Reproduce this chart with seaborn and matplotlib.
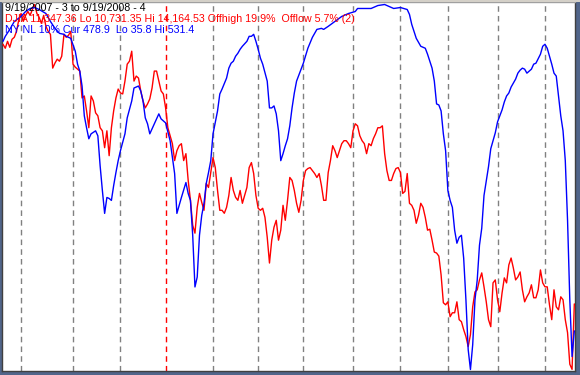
import numpy as np
import pandas as pd
import matplotlib
matplotlib.use("Agg")
import matplotlib.pyplot as plt
from matplotlib.patches import Rectangle
import seaborn as sns

# trading calendar 9/19/2007 .. 9/19/2008
holidays = ["2007-11-22", "2007-12-25", "2008-01-01", "2008-01-21", "2008-02-18",
            "2008-03-21", "2008-05-26", "2008-07-04", "2008-09-01"]
days = pd.bdate_range("2007-09-19", "2008-09-19", freq="C", holidays=holidays)

# DJIA close, one value per trading day
djia = [13790, 13753, 13818, 13762, 13837, 13856, 13912, 14024, 14080, 14006,
        14062, 14099, 14062, 14118, 14164.53, 14080, 14043, 13987, 14062, 13959,
        13912, 13884, 13566, 13613, 13650, 13631, 13678, 13884, 13856, 13875,
        13912, 13603, 13575, 13556, 13538, 13285, 13304, 13164, 13005, 13304,
        13257, 13145, 13117, 13005, 12976, 12817, 12976, 12742, 13005, 13164,
        13285, 13369, 13332, 13323, 13444, 13603, 13631, 13725, 13444, 13491,
        13472, 13351, 13257, 13192, 13229, 13276, 13379, 13538, 13538, 13444,
        13351, 13323, 13192, 13005, 12930, 12855, 12696, 12789, 12836, 12855,
        12696, 12761, 12509, 12322, 12088, 12013, 12256, 12387, 12303, 12228,
        12481, 12443, 12583, 12724, 12630, 12415, 12228, 12228, 12200, 12256,
        12368, 12537, 12415, 12350, 12322, 12415, 12294, 12368, 12443, 12630,
        12677, 12574, 12368, 12247, 12228, 12247, 12162, 11975, 11732, 11947,
        12069, 12134, 11947, 12041, 12275, 12134, 12322, 12537, 12509, 12415,
        12294, 12209, 12322, 12509, 12602, 12621, 12630, 12602, 12574, 12537,
        12574, 12462, 12322, 12322, 12583, 12696, 12836, 12789, 12724, 12789,
        12855, 12883, 12883, 12855, 12817, 12976, 13042, 13023, 12930, 12883,
        12855, 12761, 12855, 12836, 12902, 12948, 13005, 13005, 13023, 12761,
        12602, 12509, 12509, 12574, 12621, 12630, 12583, 12387, 12406, 12574,
        12294, 12275, 12228, 12106, 12181, 12294, 12256, 12162, 12041, 12050,
        11947, 11835, 11826, 11797, 11620, 11358, 11339, 11367, 11227, 11264,
        11264, 11367, 11199, 11180, 11105, 11040, 10946, 11058, 11320, 11460,
        11480, 11573, 11639, 11508, 11367, 11199, 11133, 11545, 11573, 11386,
        11274, 11451, 11592, 11545, 11714, 11779, 11685, 11573, 11601, 11648,
        11480, 11367, 11414, 11451, 11527, 11405, 11405, 11480, 11667, 11545,
        11508, 11508, 11339, 11199, 11480, 11320, 11292, 11414, 11386, 11199,
        11077, 10780, 10731.35, 11347.36]

# NY new lows, 10% trend (plotted inverted)
nl_day = [0, 1, 3, 5, 8, 10, 12, 14, 16, 19, 21, 23, 25, 27, 28, 30, 32, 33, 34, 35,
          36, 37, 38, 39, 41, 42, 43, 44, 45, 46, 47, 48, 49, 50, 51, 52, 54, 55, 57, 58,
          60, 61, 62, 63, 64, 65, 67, 69, 70, 72, 74, 76, 77, 79, 81, 82, 83, 84, 85, 86,
          87, 88, 89, 90, 91, 92, 93, 95, 96, 97, 99, 100, 101, 102, 103, 104, 105, 106, 108, 109,
          110, 111, 112, 113, 114, 115, 117, 118, 119, 120, 121, 122, 123, 124, 125, 126, 127, 128, 129, 130,
          132, 133, 135, 137, 138, 139, 141, 142, 144, 147, 150, 153, 156, 157, 160, 163, 166, 169, 173, 176,
          179, 180, 181, 183, 185, 186, 187, 188, 190, 191, 192, 193, 194, 195, 196, 197, 198, 199, 200, 201,
          202, 203, 204, 205, 206, 207, 208, 209, 210, 211, 212, 213, 215, 216, 218, 219, 221, 222, 223, 224,
          225, 227, 228, 229, 230, 231, 232, 234, 235, 236, 238, 239, 240, 241, 242, 243, 244, 245, 246, 247,
          248, 249, 250, 251, 252, 253]
nl_value = [85.8, 79.0, 69.6, 58.8, 52.0, 45.3, 41.2, 39.9, 42.6, 48.0, 58.8, 68.2, 75.0, 76.3, 79.0, 81.7, 99.3, 116.8, 126.3, 146.5,
            187.0, 203.2, 218.1, 211.4, 207.3, 214.1, 254.6, 288.3, 319.4, 297.8, 299.1, 301.8, 281.6, 264.0, 247.8, 234.3, 211.4, 189.7, 166.8, 149.2,
            146.5, 153.3, 166.8, 189.7, 197.8, 211.4, 197.8, 184.3, 191.1, 196.5, 220.8, 265.4, 319.4, 297.8, 277.5, 292.4, 301.8, 349.1, 419.3, 405.8,
            349.1, 322.1, 305.8, 278.9, 264.0, 247.8, 211.4, 180.3, 157.3, 150.6, 135.7, 122.2, 115.5, 112.8, 106.0, 102.0, 96.6, 92.5, 85.8, 79.0,
            79.0, 76.3, 85.8, 96.6, 108.7, 116.8, 139.8, 176.2, 176.2, 173.5, 184.3, 207.3, 247.8, 238.4, 227.6, 218.1, 200.5, 176.2, 156.0, 139.8,
            123.6, 115.5, 95.2, 80.4, 75.0, 69.6, 68.2, 69.6, 65.5, 58.8, 52.0, 48.0, 45.3, 41.2, 41.2, 41.2, 37.2, 35.8, 41.2, 39.9,
            42.6, 49.3, 62.8, 81.7, 92.5, 93.9, 95.2, 103.3, 122.2, 139.8, 170.8, 172.2, 180.3, 211.4, 234.3, 288.3, 301.8, 311.3, 342.3, 359.9,
            351.8, 349.1, 380.2, 436.9, 504.4, 531.4, 497.6, 436.9, 409.9, 362.6, 339.6, 295.1, 255.9, 231.6, 210.0, 195.1, 178.9, 168.1, 160.0, 156.0,
            147.9, 137.1, 129.0, 124.9, 122.2, 123.6, 129.0, 123.6, 116.8, 115.5, 103.3, 92.5, 89.8, 95.2, 106.0, 116.8, 129.0, 133.0, 160.0, 187.0,
            207.3, 247.8, 328.8, 436.9, 513.8, 478.9]

title = "9/19/2007 - 3 to 9/19/2008 - 4"
djia_label = "DJIA 11,347.36 Lo 10,731.35 Hi 14,164.53 Offhigh 19.9%  Offlow 5.7% (2)"
nl_label = "NY NL 10% Cur 478.9  Lo 35.8 Hi 531.4"

dj = pd.DataFrame({"day": np.arange(len(djia)), "close": djia})
nl = pd.DataFrame({"day": nl_day, "value": nl_value})

sns.set_style("white")
plt.rcParams["font.family"] = ["Liberation Sans", "DejaVu Sans"]

W, H = 580, 375
fig = plt.figure(figsize=(W / 100, H / 100), dpi=100, facecolor="#51658a")
fig.patches.append(Rectangle((0, 1 - 2 / H), 1, 2 / H, transform=fig.transFigure,
                             facecolor="#d4d0c8", edgecolor="none"))

ax = fig.add_axes([2 / W, 4 / H, 573 / W, 369 / H])
ax.set_facecolor("white")
for s in ax.spines.values():
    s.set_color("#404040")
    s.set_linewidth(1)
ax.spines["top"].set_color("#a0a0a0")

# month boundaries
month_starts = [i for i in range(1, len(days)) if days[i].month != days[i - 1].month]
for i in month_starts:
    c = "#ff0000" if days[i].month == 1 else "#808080"
    ax.axvline(i, color=c, lw=1, ls=(0, (4, 3)), zorder=1)

sns.lineplot(data=dj, x="day", y="close", ax=ax, color="#ff0000", lw=1.0, zorder=3)
ax.set_xlim(-0.45, 253.3)
ax.set_ylim(10716, 14188)

ax2 = ax.twinx()
sns.lineplot(data=nl, x="day", y="value", ax=ax2, color="#0000ff", lw=1.0, zorder=4)
ax2.set_ylim(533.4, 32.4)
ax2.set_xlim(-0.45, 253.3)

for a in (ax, ax2):
    a.set_xticks([])
    a.set_yticks([])
    a.set_xlabel("")
    a.set_ylabel("")
for s in ax2.spines.values():
    s.set_visible(False)

fs = 7.7
fig.text(5 / W, 1 - 8 / H, title, color="black", fontsize=fs, va="center", ha="left")
fig.text(5 / W, 1 - 19 / H, djia_label, color="#ff0000", fontsize=fs, va="center", ha="left")
fig.text(5 / W, 1 - 30 / H, nl_label, color="#0000ff", fontsize=fs, va="center", ha="left")

fig.savefig("out.png", dpi=100, facecolor=fig.get_facecolor())
